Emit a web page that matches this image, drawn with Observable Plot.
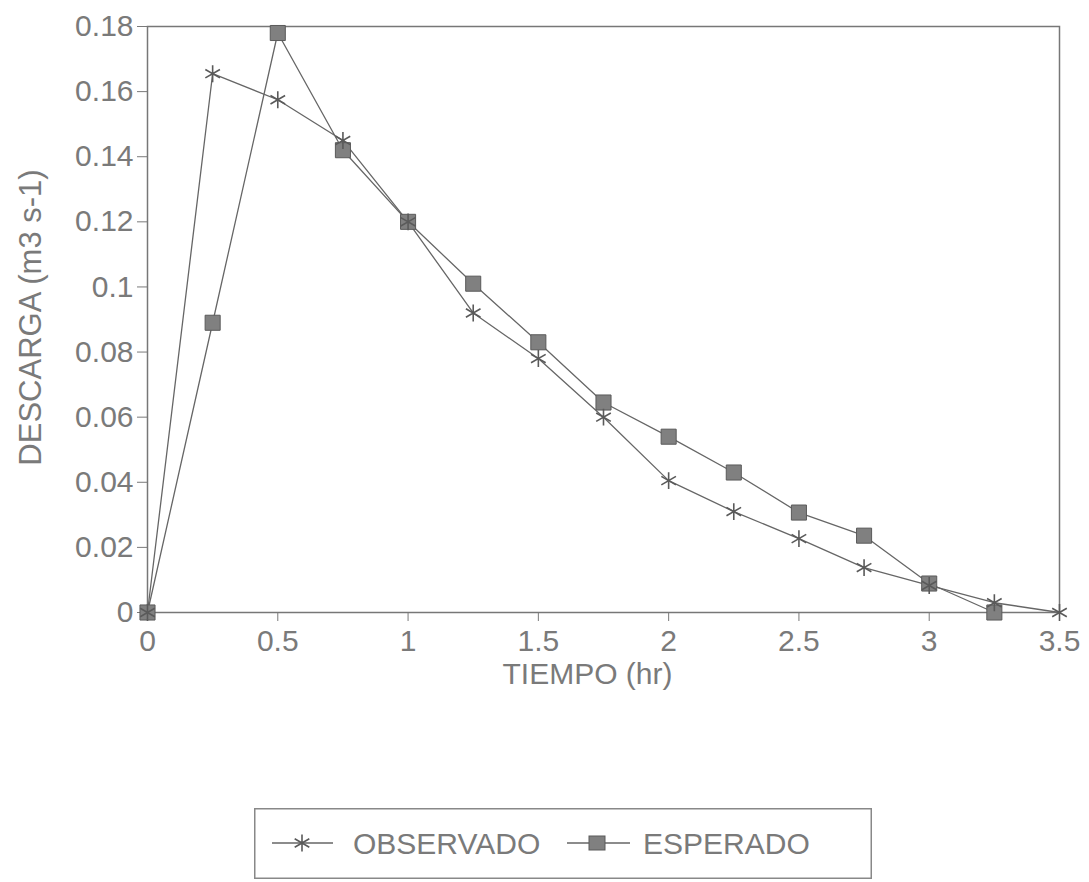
<!DOCTYPE html>
<html><head><meta charset="utf-8">
<script src="https://cdn.jsdelivr.net/npm/d3@7"></script>
<script src="https://cdn.jsdelivr.net/npm/@observablehq/plot@0.6"></script>
<style>
body{margin:0;background:#fff;font-family:"Liberation Sans",Arial,sans-serif;}
#wrap{position:relative;width:1089px;height:882px;background:#fff;}
#legend{position:absolute;left:254px;top:808px;}
</style></head><body><div id="wrap"></div>
<script>
// Data
const tiempoObs = [0, 0.25, 0.5, 0.75, 1, 1.25, 1.5, 1.75, 2, 2.25, 2.5, 2.75, 3, 3.25, 3.5];
const observado = [0, 0.1655, 0.1575, 0.145, 0.12, 0.092, 0.078, 0.060, 0.0405, 0.031, 0.0227, 0.0138, 0.0083, 0.003, 0];
const tiempoEsp = [0, 0.25, 0.5, 0.75, 1, 1.25, 1.5, 1.75, 2, 2.25, 2.5, 2.75, 3, 3.25];
const esperado = [0, 0.089, 0.178, 0.142, 0.12, 0.101, 0.083, 0.0645, 0.054, 0.043, 0.0307, 0.0236, 0.0089, 0];
const seriesNames = ["OBSERVADO", "ESPERADO"];
const xTicks = [0, 0.5, 1, 1.5, 2, 2.5, 3, 3.5];
const yTicks = [0, 0.02, 0.04, 0.06, 0.08, 0.1, 0.12, 0.14, 0.16, 0.18];
const xTitle = "TIEMPO (hr)";
const yTitle = "DESCARGA (m3 s-1)";

const obsData = tiempoObs.map((t, i) => ({t, q: observado[i]}));
const espData = tiempoEsp.map((t, i) => ({t, q: esperado[i]}));

const font = '"Liberation Sans", Arial, sans-serif';
const chart = Plot.plot({
  width: 1089, height: 720,
  marginLeft: 147, marginRight: 30, marginTop: 26, marginBottom: 108,
  style: {fontFamily: font, fontSize: "30px", color: "#7a7a7a", background: "#fff", overflow: "visible"},
  x: {domain: [0, 3.5], ticks: xTicks, tickFormat: d => String(d), tickSize: 9, tickPadding: 8, label: null},
  y: {domain: [0, 0.18], ticks: yTicks, tickFormat: d => String(+d.toFixed(2)), tickSize: 10, tickPadding: 4, label: null},
  marks: [
    Plot.frame({stroke: "#777", strokeWidth: 1.5}),
    Plot.line(obsData, {x: "t", y: "q", stroke: "#666", strokeWidth: 1.3}),
    Plot.line(espData, {x: "t", y: "q", stroke: "#666", strokeWidth: 1.3}),
    Plot.dot(espData, {x: "t", y: "q", symbol: "square", r: 8.5, fill: "#808080", stroke: "#5a5a5a", strokeWidth: 1}),
    Plot.dot(obsData, {x: "t", y: "q", symbol: "asterisk", r: 8, stroke: "#5a5a5a", strokeWidth: 1.6}),
    Plot.text([xTitle], {frameAnchor: "bottom", dy: 71, dx: -16, fontSize: 30, fill: "#7a7a7a"}),
    Plot.text([yTitle], {frameAnchor: "left", textAnchor: "middle", rotate: -90, dx: -116, dy: -2, fontSize: 31, fill: "#7a7a7a"})
  ]
});
const wrap = document.getElementById("wrap");
wrap.appendChild(chart);

// Legend (below the SVG chart)
const lw = 618, lh = 71, cy = 35;
const leg = d3.create("svg").attr("id", "legend").attr("width", lw).attr("height", lh)
  .style("font-family", font);
leg.append("rect").attr("x", 0.75).attr("y", 0.75).attr("width", lw - 1.5).attr("height", lh - 1.5)
  .attr("fill", "none").attr("stroke", "#888").attr("stroke-width", 1.5);
// OBSERVADO sample
leg.append("line").attr("x1", 18).attr("x2", 79).attr("y1", cy).attr("y2", cy).attr("stroke", "#666").attr("stroke-width", 1.3);
leg.append("path").attr("transform", `translate(48,${cy})`)
  .attr("d", d3.symbol(d3.symbolAsterisk, 8 * 8 * Math.PI)())
  .attr("fill", "none").attr("stroke", "#5a5a5a").attr("stroke-width", 1.6);
leg.append("text").attr("x", 99).attr("y", cy).attr("dy", "0.35em").attr("font-size", 30).attr("fill", "#7a7a7a").text(seriesNames[0]);
// ESPERADO sample
leg.append("line").attr("x1", 313).attr("x2", 376).attr("y1", cy).attr("y2", cy).attr("stroke", "#666").attr("stroke-width", 1.3);
leg.append("rect").attr("x", 335).attr("y", cy - 7).attr("width", 16).attr("height", 14).attr("fill", "#808080").attr("stroke", "#5a5a5a");
leg.append("text").attr("x", 389).attr("y", cy).attr("dy", "0.35em").attr("font-size", 30).attr("fill", "#7a7a7a").text(seriesNames[1]);
wrap.appendChild(leg.node());
</script></body></html>
